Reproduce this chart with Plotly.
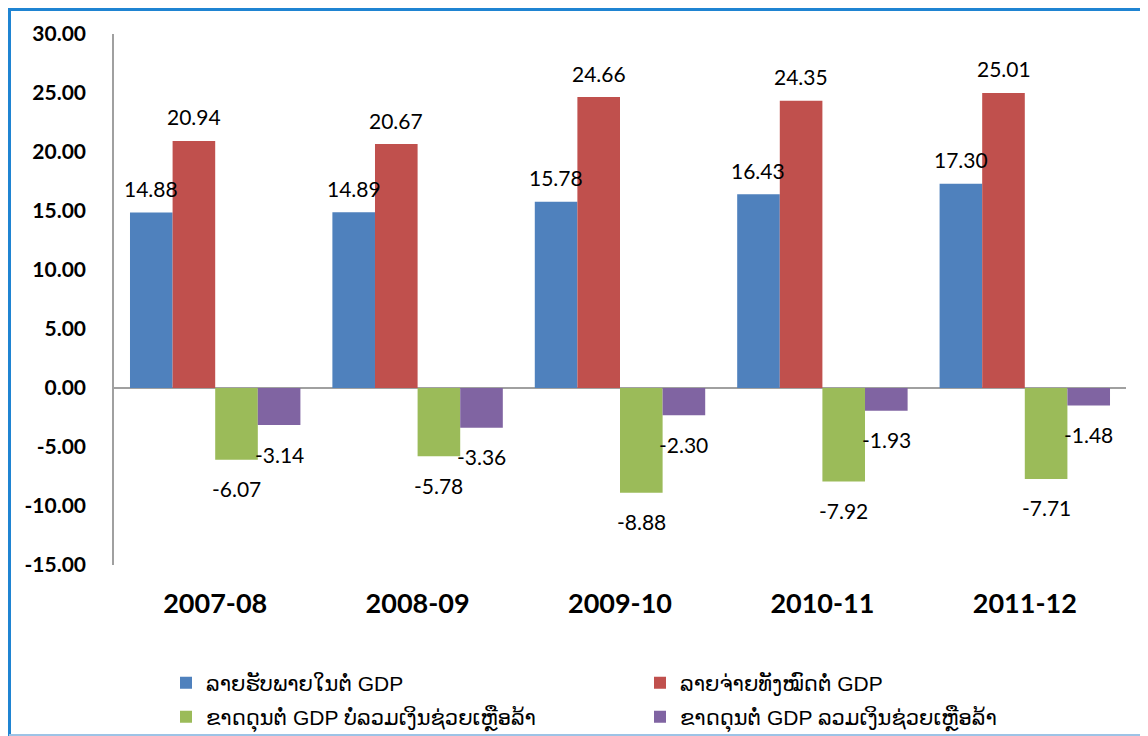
import plotly.graph_objects as go

categories = ["2007-08", "2008-09", "2009-10", "2010-11", "2011-12"]
revenue = [14.88, 14.89, 15.78, 16.43, 17.30]
expenditure = [20.94, 20.67, 24.66, 24.35, 25.01]
deficit_excl_grants = [-6.07, -5.78, -8.88, -7.92, -7.71]
deficit_incl_grants = [-3.14, -3.36, -2.30, -1.93, -1.48]

series_names = [
    "ລາຍຮັບພາຍໃນຕໍ່ GDP",
    "ລາຍຈ່າຍທັງໝົດຕໍ່ GDP",
    "ຂາດດຸນຕໍ່ GDP ບໍ່ລວມເງິນຊ່ວຍເຫຼືອລ້າ",
    "ຂາດດຸນຕໍ່ GDP ລວມເງິນຊ່ວຍເຫຼືອລ້າ",
]
series_values = [revenue, expenditure, deficit_excl_grants, deficit_incl_grants]
colors = ["#4F81BD", "#C0504D", "#9BBB59", "#8064A2"]
legend_ids = ["legend", "legend", "legend2", "legend2"]
tick_vals = [30, 25, 20, 15, 10, 5, 0, -5, -10, -15]

BARGAP = 0.158
label_font = dict(family="Lato, Open Sans, sans-serif", size=21, color="#000000")

fig = go.Figure()
for name, vals, col, lg in zip(series_names, series_values, colors, legend_ids):
    fig.add_trace(go.Bar(
        x=categories, y=vals, name=name, legend=lg,
        marker=dict(color=col, line=dict(width=0)),
    ))

# data labels via annotations positioned on grouped bar centres
n = len(series_values)
w = (1 - BARGAP) / n
annotations = []
for si, vals in enumerate(series_values):
    off = (si - (n - 1) / 2) * w
    for ci, v in enumerate(vals):
        annotations.append(dict(
            x=ci + off, y=v, xref="x", yref="y",
            text=f"{v:.2f}", showarrow=False,
            yanchor="middle", xanchor="center",
            yshift=24 if v >= 0 else -29,
            font=label_font,
        ))

# page body has an 8px margin; work in screen pixels and convert
OFF = 8
W, H = 1148 - OFF, 736 - OFF
L, T = 114 - OFF, 34 - OFF
R = W - (1126 - OFF)
B = H - (565 - OFF)
pw, ph = W - L - R, H - T - B

def px_x(x):
    return (x - OFF - L) / pw

def px_y(y):
    return (H - B - (y - OFF)) / ph

def cx(x):
    return (x - OFF) / W

def cy(y):
    return 1 - (y - OFF) / H

shapes = [
    dict(type="line", xref="paper", yref="paper", x0=px_x(9.5), x1=px_x(9.5),
         y0=px_y(8), y1=px_y(740), line=dict(color="#1F84D2", width=3)),
    dict(type="line", xref="paper", yref="paper", x0=px_x(8), x1=px_x(1160),
         y0=px_y(9.5), y1=px_y(9.5), line=dict(color="#1F84D2", width=3)),
    dict(type="line", xref="paper", yref="paper", x0=px_x(9), x1=px_x(1160),
         y0=px_y(735), y1=px_y(735), line=dict(color="#9DC3E6", width=2)),
]

legend_font = dict(family="Liberation Sans, DejaVu Sans, sans-serif", size=21, color="#000000")
legend_common = dict(
    orientation="h", xanchor="left", yanchor="middle",
    xref="container", yref="container",
    entrywidth=429, entrywidthmode="pixels",
    font=legend_font, itemsizing="constant", bgcolor="rgba(0,0,0,0)",
)

fig.update_layout(
    width=W, height=H,
    margin=dict(l=L, r=R, t=T, b=B, pad=0, autoexpand=False),
    paper_bgcolor="white", plot_bgcolor="white",
    barmode="group", bargap=BARGAP, bargroupgap=0,
    showlegend=True,
    legend=dict(x=cx(166), y=cy(683), **legend_common),
    legend2=dict(x=cx(166), y=cy(717), **legend_common),
    annotations=annotations,
    shapes=shapes,
    yaxis=dict(
        range=[-15, 30], tickvals=tick_vals, ticktext=[f"{t:.2f}" for t in tick_vals],
        showgrid=False, zeroline=True, zerolinecolor="#A0A0A0", zerolinewidth=1.5,
        showline=True, linecolor="#A0A0A0", linewidth=1.5, ticks="",
        ticklabelstandoff=22, automargin=False,
        tickfont=dict(family="Lato, Open Sans, sans-serif", size=21, color="#000000", weight="bold"),
    ),
    xaxis=dict(
        type="category",
        showgrid=False, showline=False, ticks="",
        ticklabelstandoff=20, automargin=False,
        tickfont=dict(family="Lato, Open Sans, sans-serif", size=27, color="#000000", weight="bold"),
    ),
)

fig.write_html("out.html")
